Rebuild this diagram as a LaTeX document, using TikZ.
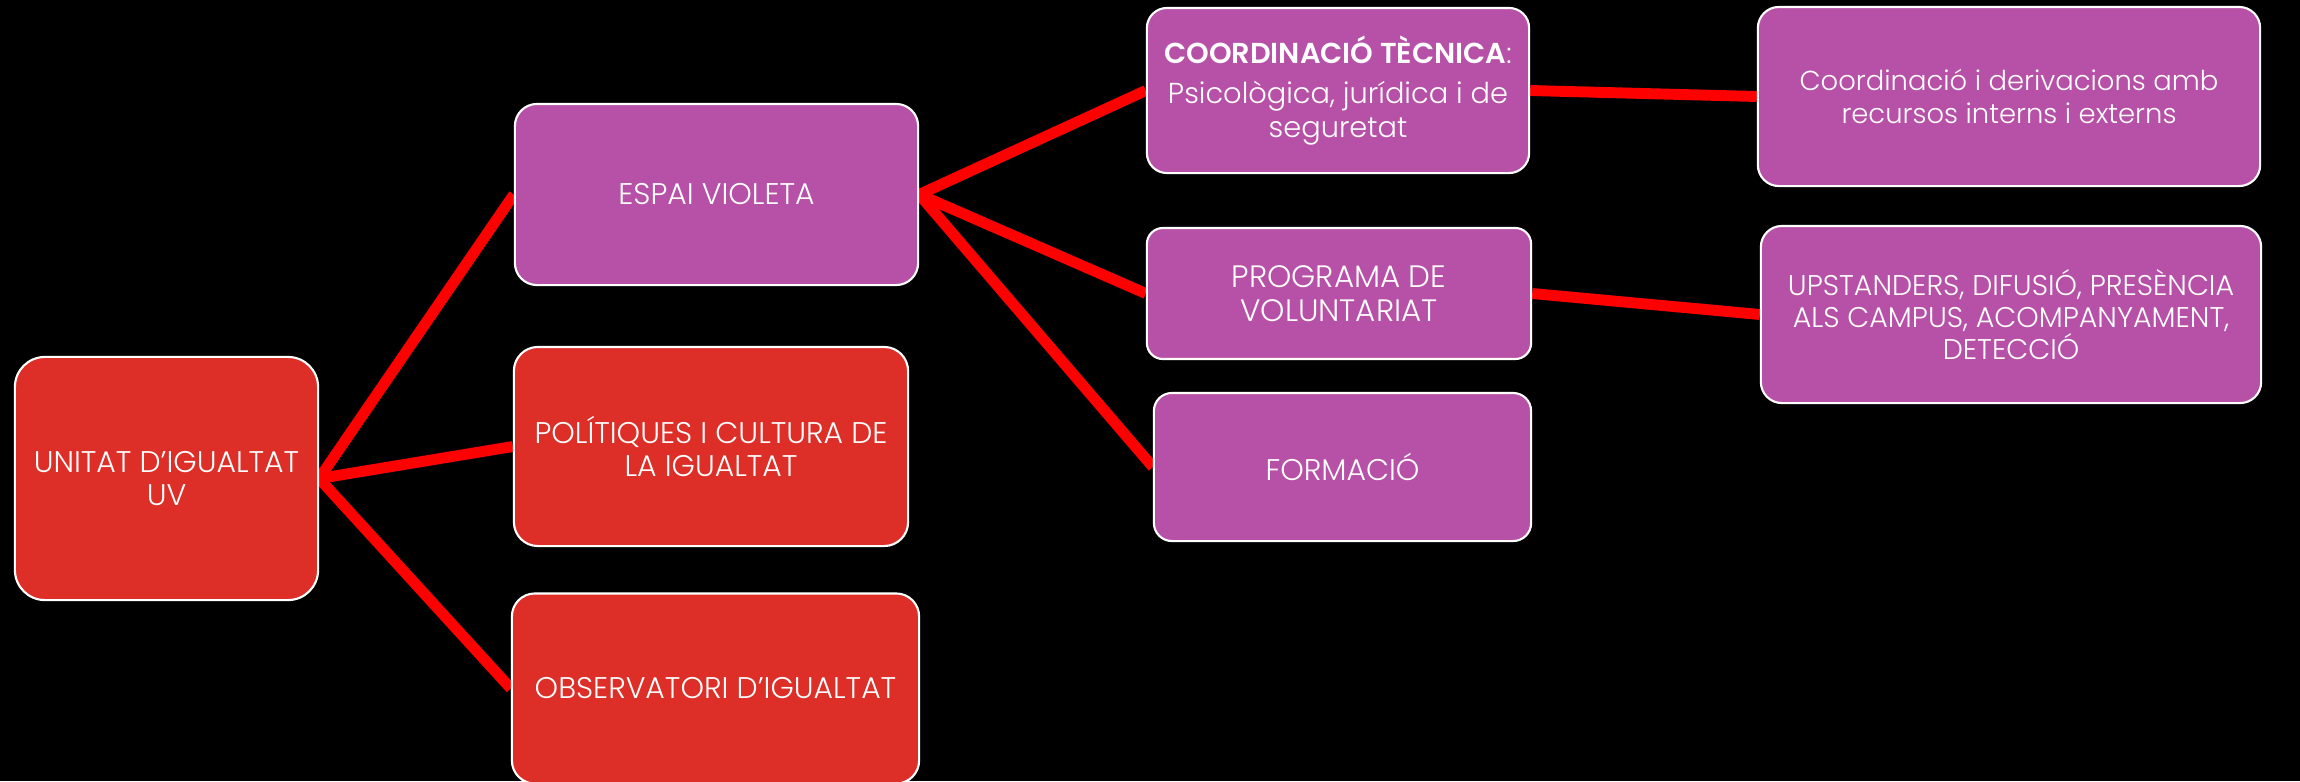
\documentclass[tikz,border=0pt]{standalone}
\usepackage{fontspec}
\IfFontExistsTF{Poppins Light}{%
  \IfFontExistsTF{Poppins SemiBold}{%
    \setmainfont{Poppins Light}[BoldFont={Poppins SemiBold}]}{%
    \setmainfont{Poppins Light}[BoldFont={Poppins Bold}]}}{%
  \setmainfont{Poppins}}
\pgfdeclarelayer{bg}
\pgfdeclarelayer{links}
\pgfsetlayers{bg,links,main}
\definecolor{boxred}{RGB}{222,46,40}
\definecolor{boxpurple}{RGB}{183,81,168}
\definecolor{linkred}{RGB}{255,0,0}
\tikzset{
  box/.style={draw=white, line width=0.6pt, text=white, align=center, inner sep=0pt,
    font=\fontsize{8.5}{9.4}\selectfont},
  redbox/.style={box, fill=boxred},
  purplebox/.style={box, fill=boxpurple},
  link/.style={draw=linkred, line width=3.1pt},
}
\begin{document}
\begin{tikzpicture}[x=0.01cm,y=-0.01cm]
\begin{pgfonlayer}{bg}
\fill[black] (0,0) rectangle (2300,781);
\end{pgfonlayer}
\useasboundingbox (0,0) rectangle (2300,781);

\node[redbox, minimum width=3.03cm, minimum height=2.43cm, rounded corners=0.3cm] (uv) at (166.5,478.5) {UNITAT D’IGUALTAT\\UV};
\node[purplebox, minimum width=4.03cm, minimum height=1.81cm, rounded corners=0.22cm] (ev) at (716.5,194.5) {ESPAI VIOLETA};
\node[redbox, minimum width=3.94cm, minimum height=1.99cm, rounded corners=0.24cm] (pol) at (711,446.5) {POLÍTIQUES I CULTURA DE\\LA IGUALTAT};
\node[redbox, minimum width=4.07cm, minimum height=1.90cm, rounded corners=0.23cm] (obs) at (715.5,688.5) {OBSERVATORI D’IGUALTAT};
\node[purplebox, minimum width=3.82cm, minimum height=1.65cm, rounded corners=0.2cm, font=\fontsize{8.2}{9.6}\selectfont] (ct) at (1338,90.5) {\textbf{COORDINACIÓ TÈCNICA}:\\[0.06cm]Psicològica, jurídica i de\\seguretat};
\node[purplebox, minimum width=3.84cm, minimum height=1.31cm, rounded corners=0.16cm, font=\fontsize{8.8}{9.6}\selectfont] (pv) at (1339,293.5) {PROGRAMA DE\\VOLUNTARIAT};
\node[purplebox, minimum width=3.77cm, minimum height=1.48cm, rounded corners=0.18cm] (fo) at (1342.5,467) {FORMACIÓ};
\node[purplebox, minimum width=5.02cm, minimum height=1.79cm, rounded corners=0.21cm, font=\fontsize{7.8}{9.4}\selectfont] (cd) at (2009,96.5) {Coordinació i derivacions amb\\recursos interns i externs};
\node[purplebox, minimum width=5.00cm, minimum height=1.77cm, rounded corners=0.21cm, font=\fontsize{8.1}{9.2}\selectfont] (up) at (2011,314.5) {UPSTANDERS, DIFUSIÓ, PRESÈNCIA\\ALS CAMPUS, ACOMPANYAMENT,\\DETECCIÓ};

\begin{pgfonlayer}{links}
\draw[link] (uv.east) -- (ev.west);
\draw[link] (uv.east) -- (pol.west);
\draw[link] (uv.east) -- (obs.west);
\draw[link] (ev.east) -- (ct.west);
\draw[link] (ev.east) -- (pv.west);
\draw[link] (ev.east) -- (fo.west);
\draw[link] (ct.east) -- (cd.west);
\draw[link] (pv.east) -- (up.west);
\end{pgfonlayer}
\end{tikzpicture}
\end{document}
